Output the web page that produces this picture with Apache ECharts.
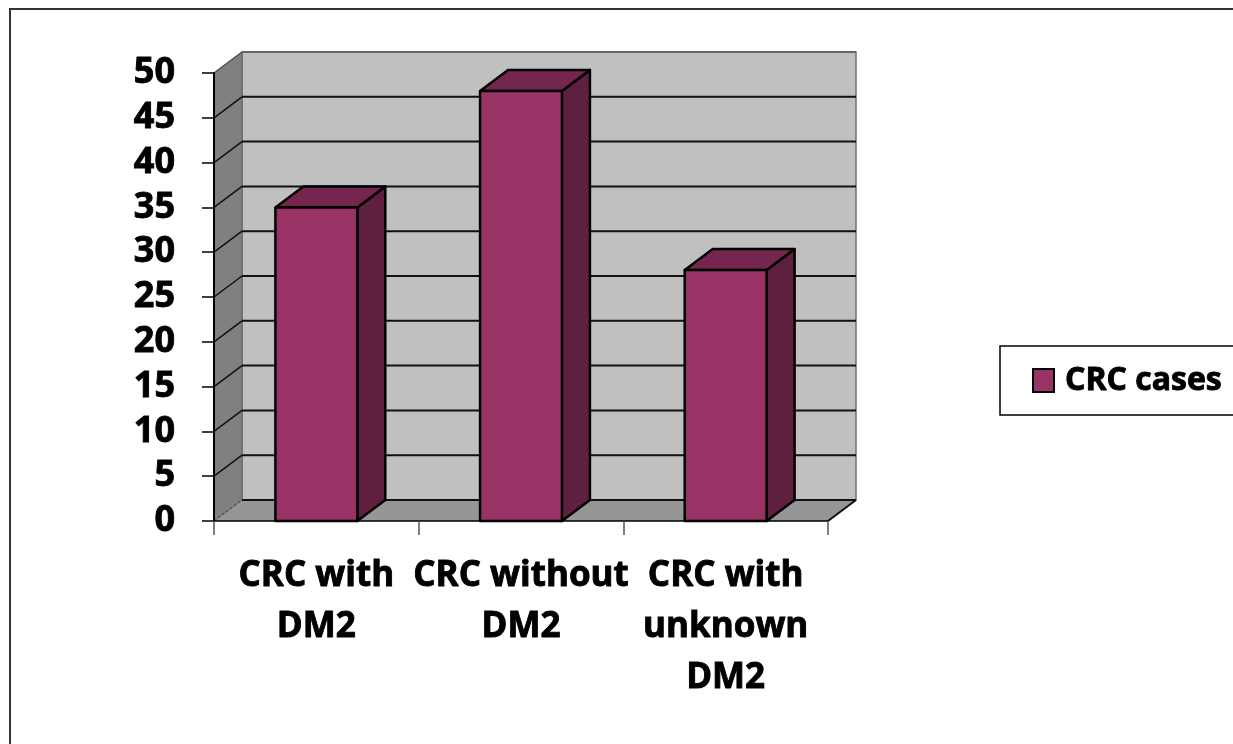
<!DOCTYPE html>
<html>
<head>
<meta charset="utf-8">
<style>
html,body{margin:0;padding:0;background:#fff;}
#chart{width:1233px;height:744px;}
</style>
<script src="https://cdn.jsdelivr.net/npm/echarts@6/dist/echarts.min.js"></script>
</head>
<body>
<div id="chart"></div>
<script>
// ---- data ----
const categories = ['CRC with\nDM2', 'CRC without\nDM2', 'CRC with\nunknown\nDM2'];
const seriesName = 'CRC cases';
const crcCases = [35, 48, 28];
const yTicks = [0, 5, 10, 15, 20, 25, 30, 35, 40, 45, 50];

// ---- style ----
const DX = 28, DY = -21;           // 3D depth offset (px)
const FONT = 'Open Sans';
const FRONT = '#993366', TOP = '#74264E', SIDE = '#5F1F3F';

const yMin = yTicks[0], yMax = yTicks[yTicks.length - 1];

function renderWalls(params, api) {
  const cs = params.coordSys;
  const x0 = cs.x, x1 = cs.x + cs.width;
  const yb = api.coord([0, yMin])[1];
  const yt = api.coord([0, yMax])[1];
  const children = [];
  children.push({type: 'rect', shape: {x: x0 + DX, y: yt + DY, width: x1 - x0, height: yb - yt},
    style: {fill: '#C0C0C0', stroke: '#707070', lineWidth: 1.5}});
  children.push({type: 'polygon', shape: {points: [[x0, yt], [x0 + DX, yt + DY], [x0 + DX, yb + DY], [x0, yb]]},
    style: {fill: '#808080', stroke: '#606060', lineWidth: 1}});
  children.push({type: 'polygon', shape: {points: [[x0, yb], [x1, yb], [x1 + DX, yb + DY], [x0 + DX, yb + DY]]},
    style: {fill: '#969696'}});
  yTicks.forEach(function (v) {
    const y = api.coord([0, v])[1];
    const isTop = v === yMax, isBottom = v === yMin;
    children.push({type: 'line', shape: {x1: x0 + DX, y1: y + DY, x2: x1 + DX, y2: y + DY},
      style: {stroke: isTop ? '#666666' : '#111111', lineWidth: 2}});
    children.push({type: 'line', shape: {x1: x0, y1: y, x2: x0 + DX, y2: y + DY},
      style: {stroke: (isBottom || isTop) ? '#555555' : '#111111', lineWidth: 1.5,
        lineDash: isBottom ? [3, 2] : null}});
  });
  children.push({type: 'line', shape: {x1: x1, y1: yb, x2: x1 + DX, y2: yb + DY},
    style: {stroke: '#111111', lineWidth: 2}});
  return {type: 'group', children: children};
}

function renderBar(params, api) {
  const cat = api.value(0);
  const p0 = api.coord([cat, yMin]);
  const p1 = api.coord([cat, api.value(1)]);
  const w = api.size([1, 0])[0] * 0.4;
  const xl = p0[0] - w / 2, xr = p0[0] + w / 2;
  const y0 = p0[1], y1 = p1[1];
  const st = {stroke: '#000', lineWidth: 2.5, lineJoin: 'round'};
  return {type: 'group', children: [
    {type: 'polygon', shape: {points: [[xr, y1], [xr + DX, y1 + DY], [xr + DX, y0 + DY], [xr, y0]]},
      style: Object.assign({fill: SIDE}, st)},
    {type: 'polygon', shape: {points: [[xl, y1], [xr, y1], [xr + DX, y1 + DY], [xl + DX, y1 + DY]]},
      style: Object.assign({fill: TOP}, st)},
    {type: 'rect', shape: {x: xl, y: y1, width: w, height: y0 - y1},
      style: Object.assign({fill: FRONT}, st)}
  ]};
}

const heavy = {fontFamily: FONT, fontWeight: 'bold', color: '#000', textBorderColor: '#000', textBorderWidth: 0.9};

const chart = echarts.init(document.getElementById('chart'), null, {renderer: 'canvas'});
chart.setOption({
  backgroundColor: '#ffffff',
  animation: false,
  textStyle: {fontFamily: FONT},
  grid: {left: 214, right: 405, top: 73, bottom: 223, containLabel: false},
  legend: {
    data: [seriesName],
    left: 1000, top: 346,
    orient: 'vertical',
    itemWidth: 21, itemHeight: 23,
    padding: [18, 40, 18, 32],
    borderColor: '#000', borderWidth: 1.5,
    icon: 'rect',
    textStyle: Object.assign({fontSize: 32, padding: [0, 0, 0, 6]}, heavy)
  },
  xAxis: {
    type: 'category',
    data: categories,
    boundaryGap: true,
    axisLine: {show: true, lineStyle: {color: '#000', width: 1.5}},
    axisTick: {show: true, length: 14, alignWithLabel: false, lineStyle: {color: '#555', width: 1.5}},
    axisLabel: Object.assign({interval: 0, fontSize: 35, lineHeight: 51, margin: 30, align: 'center'}, heavy),
    splitLine: {show: false}
  },
  yAxis: {
    type: 'value',
    min: yMin, max: yMax, interval: 5,
    axisLine: {show: true, lineStyle: {color: '#000', width: 2}},
    axisTick: {show: true, length: 12, lineStyle: {color: '#000', width: 1.5}},
    axisLabel: Object.assign({fontSize: 36, margin: 39}, heavy),
    splitLine: {show: false}
  },
  graphic: [{
    type: 'rect', z: -10, silent: true,
    shape: {x: 10, y: 9, width: 1300, height: 800},
    style: {fill: 'none', stroke: '#333', lineWidth: 2}
  }],
  series: [
    {
      type: 'custom', name: 'walls', silent: true, z: 0,
      renderItem: renderWalls,
      data: [[0, 0]],
      encode: {x: 0, y: 1}
    },
    {
      type: 'custom', name: seriesName, z: 2,
      renderItem: renderBar,
      itemStyle: {color: FRONT, borderColor: '#000', borderWidth: 2},
      data: crcCases.map(function (v, i) { return [i, v]; }),
      encode: {x: 0, y: 1}
    }
  ]
});
</script>
</body>
</html>
